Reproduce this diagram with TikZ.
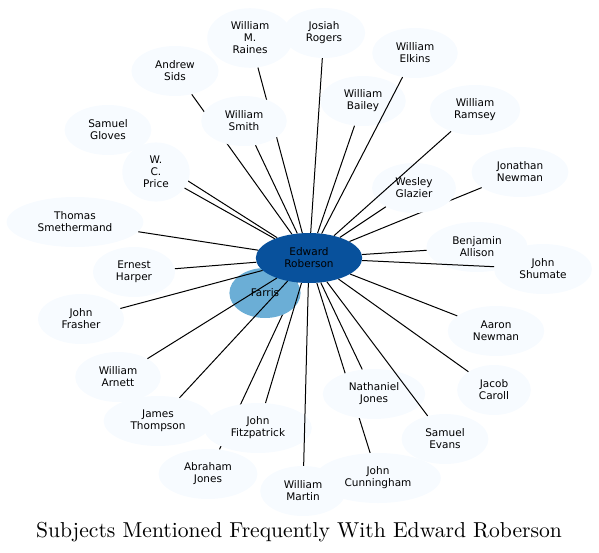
\documentclass[tikz,border=0pt]{standalone}
\usepackage{fontspec}
\newfontfamily\labelfont{DejaVu Sans}
\newfontfamily\titlefont{lmroman10-regular.otf}
\usetikzlibrary{shapes.geometric}
\pgfdeclarelayer{background}
\pgfsetlayers{background,main}
\definecolor{leafblue}{HTML}{F7FBFF}
\definecolor{hubblue}{HTML}{08519C}
\definecolor{midblue}{HTML}{6BAED6}
\tikzset{
  person/.style={ellipse, fill=leafblue, align=center, inner xsep=11pt, inner ysep=5pt,
    minimum height=50pt, font=\labelfont\fontsize{10.5}{12}\selectfont},
  hub/.style={person, fill=hubblue, inner xsep=13pt},
  link/.style={line width=1pt}
}

\begin{document}
\begin{tikzpicture}[x=1pt, y=-1pt]
\useasboundingbox (0,0) rectangle (599,552);
\node[person] (WR) at (250,38) {William\\M.\\Raines};
\node[person] (JR) at (324,33) {Josiah\\Rogers};
\node[person] (WE) at (415,53) {William\\Elkins};
\node[person] (AS) at (175,71) {Andrew\\Sids};
\node[person] (WB) at (363,101) {William\\Bailey};
\node[person] (RA) at (475,110) {William\\Ramsey};
\node[person] (WS) at (244,121) {William\\Smith};
\node[person] (SG) at (108,130) {Samuel\\Gloves};
\node[person] (WP) at (156,172) {W.\\C.\\Price};
\node[person] (JN) at (520,172) {Jonathan\\Newman};
\node[person] (WG) at (414,188) {Wesley\\Glazier};
\node[person] (TS) at (75,222) {Thomas\\Smethermand};
\node[person] (BA) at (477,247) {Benjamin\\Allison};
\node[person] (JS) at (543,269) {John\\Shumate};
\node[person] (EH) at (134,272) {Ernest\\Harper};
\node[person, fill=midblue] (FA) at (265,293) {Farris};
\node[hub] (ER) at (309,258) {Edward\\Roberson};
\node[person] (JF) at (81,319) {John\\Frasher};
\node[person] (AN) at (496,331) {Aaron\\Newman};
\node[person] (WA) at (118,377) {William\\Arnett};
\node[person] (JC) at (494,390) {Jacob\\Caroll};
\node[person] (NJ) at (374,394) {Nathaniel\\Jones};
\node[person] (JT) at (158,421) {James\\Thompson};
\node[person] (FI) at (258,428) {John\\Fitzpatrick};
\node[person] (SE) at (445,439) {Samuel\\Evans};
\node[person] (AJ) at (208,474) {Abraham\\Jones};
\node[person] (CU) at (378,478) {John\\Cunningham};
\node[person] (WM) at (303,491) {William\\Martin};
\begin{pgfonlayer}{background}
\draw[link] (ER) -- (WR);
\draw[link] (ER) -- (AS);
\draw[link] (ER) -- (SG);
\draw[link] (ER) -- (JN);
\draw[link] (ER) -- (AJ);
\draw[link] (ER) -- (CU);
\end{pgfonlayer}
\draw[link] (ER) -- (JR);
\draw[link] (ER) -- (WE);
\draw[link] (ER) -- (WB);
\draw[link] (ER) -- (RA);
\draw[link] (ER) -- (WS);
\draw[link] (ER) -- (WP);
\draw[link] (ER) -- (WG);
\draw[link] (ER) -- (TS);
\draw[link] (ER) -- (BA);
\draw[link] (ER) -- (JS);
\draw[link] (ER) -- (EH);
\draw[link] (ER) -- (JF);
\draw[link] (ER) -- (AN);
\draw[link] (ER) -- (WA);
\draw[link] (ER) -- (JC);
\draw[link] (ER) -- (NJ);
\draw[link] (ER) -- (JT);
\draw[link] (ER) -- (FI);
\draw[link] (ER) -- (SE);
\draw[link] (ER) -- (WM);
\node[anchor=base, font=\titlefont\fontsize{21.6}{26}\selectfont] (title) at (299,537) {Subjects Mentioned Frequently With Edward Roberson};
\end{tikzpicture}
\end{document}
